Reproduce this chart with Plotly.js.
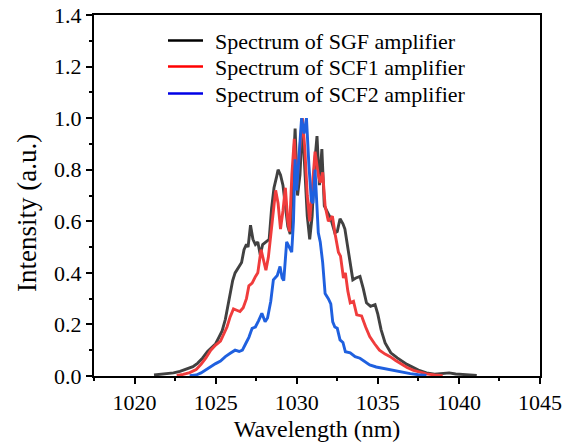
<!DOCTYPE html>
<html>
<head>
<meta charset="utf-8">
<script src="https://cdn.plot.ly/plotly-3.0.1.min.js"></script>
<style>html,body{margin:0;padding:0;background:#fff;}#chart{width:574px;height:445px;}</style>
</head>
<body>
<div id="chart"></div>
<script>
// Series names
const seriesNames = ['Spectrum of SGF amplifier', 'Spectrum of SCF1 amplifier', 'Spectrum of SCF2 amplifier'];

// SGF amplifier spectrum
const sgfX = [1021.2,1021.6,1022.0,1022.4,1022.8,1023.2,1023.6,1023.9,1024.2,1024.5,1024.8,1025.0,1025.2,1025.4,1025.6,1025.75,1025.9,1026.05,1026.2,1026.4,1026.6,1026.75,1026.9,1027.0,1027.15,1027.3,1027.45,1027.6,1027.75,1027.9,1028.1,1028.3,1028.45,1028.6,1028.75,1028.85,1029.0,1029.15,1029.3,1029.45,1029.6,1029.75,1029.9,1030.05,1030.2,1030.35,1030.5,1030.65,1030.8,1030.95,1031.1,1031.25,1031.4,1031.55,1031.7,1031.85,1032.1,1032.35,1032.5,1032.67,1032.85,1032.97,1033.19,1033.46,1033.65,1033.9,1034.1,1034.3,1034.55,1034.83,1035.0,1035.2,1035.45,1035.8,1036.2,1036.8,1037.5,1038.0,1038.5,1039.0,1039.4,1039.8,1040.3,1040.8,1041.1];
const sgfY = [0.004,0.006,0.008,0.012,0.018,0.026,0.036,0.05,0.07,0.095,0.115,0.125,0.15,0.175,0.22,0.27,0.33,0.37,0.40,0.42,0.44,0.49,0.51,0.50,0.585,0.53,0.51,0.52,0.47,0.51,0.52,0.53,0.65,0.73,0.77,0.80,0.78,0.74,0.66,0.58,0.55,0.75,0.96,0.70,0.78,0.98,0.82,0.62,0.53,0.62,0.82,0.93,0.74,0.88,0.66,0.64,0.61,0.555,0.56,0.61,0.59,0.57,0.48,0.373,0.38,0.386,0.34,0.284,0.27,0.277,0.24,0.18,0.128,0.09,0.07,0.045,0.023,0.012,0.007,0.01,0.012,0.008,0.006,0.004,0.002];

// SCF1 amplifier spectrum
const scf1X = [1022.6,1023.0,1023.4,1023.8,1024.1,1024.4,1024.7,1025.0,1025.3,1025.5,1025.7,1025.9,1026.1,1026.3,1026.5,1026.7,1026.9,1027.05,1027.25,1027.45,1027.6,1027.8,1027.95,1028.1,1028.25,1028.4,1028.55,1028.7,1028.85,1029.0,1029.15,1029.3,1029.45,1029.55,1029.7,1029.85,1030.0,1030.15,1030.35,1030.5,1030.65,1030.8,1030.95,1031.13,1031.33,1031.45,1031.6,1031.75,1031.95,1032.2,1032.37,1032.57,1032.7,1032.88,1033.0,1033.15,1033.3,1033.5,1033.7,1034.0,1034.25,1034.5,1034.8,1035.1,1035.45,1035.76,1036.1,1036.4,1036.8,1037.2,1037.6,1038.0,1038.5,1039.0];
const scf1Y = [0.002,0.006,0.013,0.025,0.045,0.07,0.10,0.12,0.135,0.16,0.19,0.23,0.26,0.255,0.25,0.265,0.30,0.35,0.36,0.385,0.40,0.49,0.45,0.41,0.46,0.54,0.62,0.72,0.67,0.57,0.64,0.73,0.60,0.56,0.78,0.92,0.74,0.86,1.0,0.88,0.70,0.60,0.72,0.87,0.78,0.75,0.79,0.66,0.60,0.62,0.55,0.48,0.465,0.38,0.40,0.33,0.284,0.29,0.237,0.233,0.19,0.153,0.125,0.10,0.085,0.075,0.06,0.049,0.033,0.022,0.015,0.008,0.004,0.001];

// SCF2 amplifier spectrum
const scf2X = [1023.4,1023.8,1024.1,1024.4,1024.7,1025.0,1025.3,1025.6,1025.9,1026.2,1026.45,1026.65,1026.85,1027.05,1027.25,1027.45,1027.65,1027.85,1028.05,1028.2,1028.4,1028.56,1028.8,1028.97,1029.1,1029.2,1029.38,1029.55,1029.69,1029.8,1029.9,1030.0,1030.15,1030.3,1030.45,1030.6,1030.75,1030.9,1031.0,1031.13,1031.33,1031.45,1031.6,1031.75,1031.95,1032.1,1032.22,1032.35,1032.5,1032.67,1032.85,1033.0,1033.3,1033.6,1033.9,1034.2,1034.5,1034.9,1035.3,1035.8,1036.4,1037.0,1037.5,1038.0];
const scf2Y = [0.001,0.004,0.012,0.025,0.038,0.048,0.058,0.075,0.088,0.10,0.095,0.10,0.125,0.15,0.185,0.19,0.215,0.243,0.21,0.225,0.29,0.373,0.39,0.425,0.38,0.37,0.52,0.50,0.48,0.60,0.84,0.72,0.88,1.0,0.94,1.0,0.82,0.68,0.67,0.80,0.555,0.52,0.44,0.32,0.30,0.28,0.21,0.19,0.185,0.14,0.13,0.094,0.09,0.075,0.069,0.055,0.043,0.035,0.03,0.022,0.016,0.009,0.005,0.002];

// Axis ticks
const xTickVals = [1020,1025,1030,1035,1040,1045];
const yTickVals = [0.0,0.2,0.4,0.6,0.8,1.0,1.2,1.4];

const lineColors = ['#414141','#f03c3c','#1f60df'];
const legendColors = ['#000000','#ff0000','#0000e6'];

const serif = "'Liberation Serif', 'Times New Roman', Times, serif";

const data = [
  {x: sgfX, y: sgfY, type:'scatter', mode:'lines', line:{color:lineColors[0], width:2.9}, name:seriesNames[0], showlegend:false, hoverinfo:'skip'},
  {x: scf1X, y: scf1Y, type:'scatter', mode:'lines', line:{color:lineColors[1], width:2.9}, name:seriesNames[1], showlegend:false, hoverinfo:'skip'},
  {x: scf2X, y: scf2Y, type:'scatter', mode:'lines', line:{color:lineColors[2], width:2.9}, name:seriesNames[2], showlegend:false, hoverinfo:'skip'}
];

// Legend drawn as key lines + labels in paper space
const legendRowsPx = [41.5, 67.5, 94.5];   // row centres, px from top of figure
const plotTop = 15, plotH = 361, plotLeft = 94, plotW = 446;
const toPY = px => 1 - (px - plotTop) / plotH;
const toPX = px => (px - plotLeft) / plotW;

const shapes = [];
const annotations = [];
seriesNames.forEach((n,i)=>{
  const yy = toPY(legendRowsPx[i] - 1);
  shapes.push({type:'line', xref:'paper', yref:'paper', x0:toPX(168), x1:toPX(203), y0:yy, y1:yy,
               line:{color:legendColors[i], width:2.5}});
  annotations.push({text:n, xref:'paper', yref:'paper', x:toPX(213), y:toPY(legendRowsPx[i]),
                    xanchor:'left', yanchor:'middle', showarrow:false,
                    font:{family:serif, size:22, color:'#000'}});
});
annotations.push({text:'Intensity (a.u.)', xref:'paper', yref:'paper', x:toPX(27), y:toPY(213),
                  xanchor:'center', yanchor:'middle', textangle:-90, showarrow:false,
                  font:{family:serif, size:27, color:'#000'}});

const layout = {
  width:574, height:445,
  margin:{l:plotLeft, r:574-plotLeft-plotW, t:plotTop, b:445-plotTop-plotH},
  paper_bgcolor:'#fff', plot_bgcolor:'#fff',
  font:{family:serif, color:'#000', size:22},
  showlegend:false,
  xaxis:{range:[1017.5,1045], tickvals:xTickVals, ticktext:xTickVals.map(String),
         ticks:'outside', ticklen:6, tickwidth:2, tickcolor:'#000',
         minor:{dtick:2.5, tick0:1017.5, ticks:'outside', ticklen:3, tickwidth:2, tickcolor:'#000', showgrid:false},
         showline:true, linecolor:'#000', linewidth:2, mirror:true, showgrid:false, zeroline:false,
         tickfont:{family:serif, size:22, color:'#000'},
         title:{text:'Wavelength (nm)', font:{family:serif, size:24, color:'#000'}, standoff:6}},
  yaxis:{range:[0,1.4], tickvals:yTickVals, ticktext:yTickVals.map(v=>v.toFixed(1)),
         ticks:'outside', ticklen:6, tickwidth:2, tickcolor:'#000',
         minor:{dtick:0.1, tick0:0, ticks:'outside', ticklen:3, tickwidth:2, tickcolor:'#000', showgrid:false},
         showline:true, linecolor:'#000', linewidth:2, mirror:true, showgrid:false, zeroline:false,
         tickfont:{family:serif, size:22, color:'#000'}},
  shapes: shapes,
  annotations: annotations
};

Plotly.newPlot('chart', data, layout, {displayModeBar:false, staticPlot:true});
</script>
</body>
</html>
